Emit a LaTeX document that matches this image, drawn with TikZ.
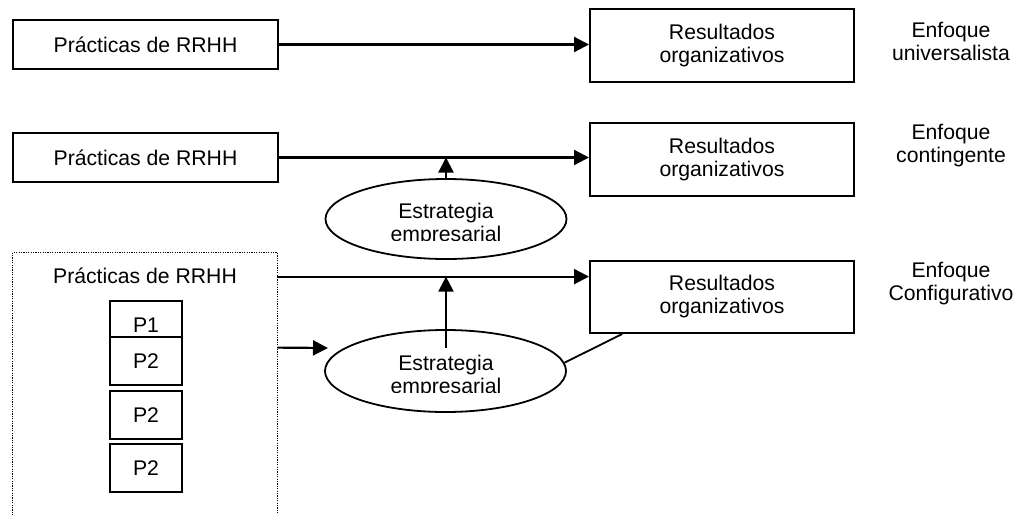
\documentclass[tikz,border=0pt]{standalone}
\usepackage{fontspec}
\setmainfont{Liberation Sans}
\usetikzlibrary{shapes.geometric,arrows.meta,calc}
\begin{document}
\begin{tikzpicture}[x=0.5pt,y=-0.5pt,
  every node/.style={font=\fontsize{10.6}{11.5}\selectfont},
  box/.style={draw,line width=1pt,inner sep=0pt,align=center},
  leftbox/.style={box,minimum width=132.5pt,minimum height=24.5pt,text height=7.5pt,text depth=0pt},
  resbox/.style={box,minimum width=132pt,minimum height=36.5pt},
  pbox/.style={box,fill=white,minimum width=36pt,minimum height=24pt,text height=7.5pt,text depth=0pt},
  strat/.style={draw,ellipse,line width=0.9pt,inner sep=0pt,minimum width=120.5pt,minimum height=40pt},
  tag/.style={anchor=north,inner sep=0pt,align=center},
  link/.style={line width=1.1pt,-{Triangle[length=7.5pt,width=7.5pt]}},
  frameline/.style={line width=0.8pt,dash pattern=on 0.6pt off 0.6pt},
]
\useasboundingbox (0,0) rectangle (1014,515);

% --- universalist approach ---
\node[leftbox] (l1) at (145.5,44.5) {Prácticas de RRHH};
\node[resbox] (r1) at (722,45.5) {Resultados\\organizativos};
\node[tag] (t1) at (951,22) {Enfoque\\universalista};
\draw[link] (l1.east) -- (l1.east -| r1.west);

% --- contingent approach ---
\node[leftbox] (l2) at (145.5,157.5) {Prácticas de RRHH};
\node[resbox] (r2) at (722,159.5) {Resultados\\organizativos};
\node[tag] (t2) at (951,124) {Enfoque\\contingente};
\node[strat] (e2) at (446,219) {};
\begin{scope}
  \clip (380,195) rectangle (512,240);
  \node[tag] (s2) at (446,203) {Estrategia\\empresarial};
\end{scope}
\draw[link] (l2.east) -- (l2.east -| r2.west);
\draw[link] (e2.north) -- (e2.north |- l2.east);

% --- configurational approach ---
\node[minimum width=132pt,minimum height=131pt,inner sep=0pt] (frame) at (145,384) {};
\draw[frameline] (frame.south west) |- (frame.north east) -- (frame.south east);
\node[inner sep=0pt,text height=7.5pt,text depth=0pt] (l3) at (145,275.5) {Prácticas de RRHH};
\node[pbox] (p1) at (146,325) {P1};
\node[pbox] (p2) at (146,361) {P2};
\node[pbox] (p3) at (146,414.5) {P2};
\node[pbox] (p4) at (146,468) {P2};

\node[resbox,minimum height=36pt] (r3) at (722,297) {Resultados\\organizativos};
\node[tag] (t3) at (951,262) {Enfoque\\Configurativo};
\node[strat,minimum height=41pt] (e3) at (445.5,371) {};
\begin{scope}
  \clip (380,345) rectangle (512,392);
  \node[tag] (s3) at (446,355) {Estrategia\\empresarial};
\end{scope}

\coordinate (f3a) at ($(frame.north east)+(0,24)$);
\coordinate (f3b) at ($(frame.north east)+(0,95)$);
\coordinate (c3in) at (328,348);
\coordinate (v3) at (446,348);
\draw[link] (f3a) -- (f3a -| r3.west);
\draw[link] (f3b) -- (c3in);
\draw[link] (v3) -- (v3 |- f3a);
\draw[line width=0.9pt] (e3.4) -- ($(r3.south west)!0.125!(r3.south east)$);
\end{tikzpicture}
\end{document}
